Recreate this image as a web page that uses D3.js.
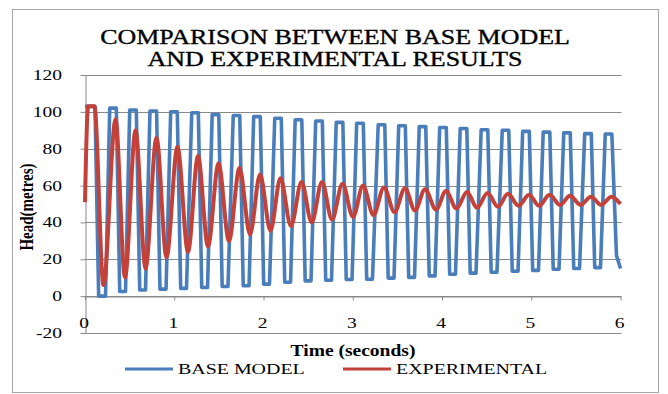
<!DOCTYPE html>
<html>
<head>
<meta charset="utf-8">
<script src="https://cdn.jsdelivr.net/npm/d3@7"></script>
<style>
  body { margin: 0; background: #fff; }
  svg { display: block; }
  text { font-family: "Liberation Serif", "Times New Roman", serif; fill: #000; }
</style>
</head>
<body>
<div id="chart"></div>
<script>
// [time (s), head (m)]
const baseModel = [
  [0,103],[0.112,103],[0.153,0],[0.230,0],
  [0.277,102],[0.351,102],[0.389,2.5],[0.454,2.5],
  [0.501,101],[0.575,101],[0.613,3.3],[0.678,3.3],
  [0.728,100.5],[0.802,100.5],[0.840,3.8],[0.908,3.8],
  [0.960,100],[1.034,100],[1.072,4.2],[1.137,4.2],
  [1.196,99.5],[1.270,99.5],[1.308,4.7],[1.373,4.7],
  [1.425,98.5],[1.499,98.5],[1.537,5.2],[1.602,5.2],
  [1.661,98],[1.734,98],[1.773,5.6],[1.838,5.6],
  [1.890,97.4],[1.964,97.4],[2.002,6.5],[2.067,6.5],
  [2.126,96.5],[2.199,96.5],[2.238,7.5],[2.303,7.5],
  [2.355,95.7],[2.429,95.7],[2.467,8.3],[2.532,8.3],
  [2.585,95],[2.659,95],[2.697,8.6],[2.762,8.6],
  [2.815,94.3],[2.889,94.3],[2.927,9],[2.992,9],
  [3.044,93.8],[3.118,93.8],[3.156,9.2],[3.221,9.2],
  [3.285,93],[3.359,93],[3.397,9.8],[3.462,9.8],
  [3.515,92.5],[3.589,92.5],[3.627,10.2],[3.692,10.2],
  [3.745,92],[3.818,92],[3.857,11],[3.922,11],
  [3.974,91.5],[4.048,91.5],[4.086,11.9],[4.151,11.9],
  [4.204,91],[4.278,91],[4.316,12.5],[4.381,12.5],
  [4.439,90.3],[4.513,90.3],[4.551,13],[4.616,13],
  [4.675,90],[4.748,90],[4.787,13.5],[4.852,13.5],
  [4.904,89.4],[4.978,89.4],[5.016,14],[5.081,14],
  [5.134,89],[5.208,89],[5.246,14.6],[5.311,14.6],
  [5.364,88.6],[5.437,88.6],[5.476,15],[5.541,15],
  [5.599,88.2],[5.673,88.2],[5.711,15.5],[5.776,15.5],
  [5.829,88],[5.903,88],[5.955,22],[6.0,15]
];

const experimental = [
  [0,51],[0.035,103],[0.105,103],[0.207,6],[0.342,96],[0.448,10],[0.566,90],[0.678,15],
  [0.801,86],[0.913,21],[1.036,81],[1.154,24],[1.266,76],[1.378,27],[1.496,72],[1.613,30],
  [1.731,69.5],[1.849,33.5],[1.961,66],[2.078,35.5],[2.190,64],[2.308,38],[2.426,62],[2.540,40],
  [2.655,62],[2.768,41.5],[2.885,61],[3.003,43],[3.115,60],[3.232,44],[3.350,59],[3.468,45.5],
  [3.585,58.5],[3.697,46.5],[3.810,58],[3.933,47],[4.045,57],[4.162,47.5],[4.280,56.5],[4.392,48],
  [4.510,56],[4.627,48.5],[4.739,55.5],[4.857,49],[4.975,55],[5.087,49],[5.205,55],[5.322,49.5],
  [5.434,54.5],[5.552,49.5],[5.669,54],[5.782,49.5],[5.899,54],[6.0,50]
];

const xTicks = [0, 1, 2, 3, 4, 5, 6];
const yTicks = [-20, 0, 20, 40, 60, 80, 100, 120];
const titleLines = ["COMPARISON BETWEEN BASE MODEL", "AND EXPERIMENTAL RESULTS"];
const seriesNames = ["BASE MODEL", "EXPERIMENTAL"];
const xTitle = "Time (seconds)";
const yTitle = "Head(metres)";

const width = 668, height = 394;
const plot = {left: 85, right: 620.5, top: 75, bottom: 333};
const colors = ["#4a7ebb", "#c4413a"];
const gridColor = "#8a8a8a";

const svg = d3.select("#chart").append("svg")
    .attr("width", width)
    .attr("height", height);

// chart area border
svg.append("rect")
    .attr("x", 12.5).attr("y", 9.5)
    .attr("width", 646).attr("height", 383)
    .attr("fill", "#fff")
    .attr("stroke", "#a6a6a6");

const x = d3.scaleLinear().domain([0, 6]).range([plot.left, plot.right]);
const y = d3.scaleLinear().domain([-20, 120]).range([plot.bottom, plot.top]);
const py = v => Math.round(y(v)) + 0.5;

// horizontal gridlines
svg.append("g")
  .selectAll("line")
  .data(yTicks)
  .join("line")
    .attr("x1", plot.left).attr("x2", plot.right + 1)
    .attr("y1", py).attr("y2", py)
    .attr("stroke", gridColor);

// y axis
const yAxis = svg.append("g")
    .attr("transform", `translate(${plot.left + 0.5},0)`)
    .call(d3.axisLeft(y).tickValues(yTicks).tickSize(5).tickSizeOuter(0).tickFormat(""));
yAxis.selectAll("path, line").attr("stroke", gridColor);

svg.append("g")
  .selectAll("text")
  .data(yTicks)
  .join("text")
    .attr("transform", d => `translate(62,${y(d) + 5}) scale(1.3,1)`)
    .attr("text-anchor", "end")
    .style("font-size", "15px")
    .text(d => d);

// x axis sits on head = 0
const xAxis = svg.append("g")
    .attr("transform", `translate(0,${py(0)})`)
    .call(d3.axisBottom(x).tickValues(xTicks).tickSize(4).tickSizeOuter(0).tickFormat(""));
xAxis.selectAll("path, line").attr("stroke", gridColor);

svg.append("g")
  .selectAll("text")
  .data(xTicks)
  .join("text")
    .attr("transform", d => `translate(${x(d) - 1},328) scale(1.3,1)`)
    .attr("text-anchor", "middle")
    .style("font-size", "15px")
    .text(d => d);

// series
const line = d3.line()
    .x(d => x(d[0]))
    .y(d => y(d[1]));

svg.append("path")
    .datum(baseModel)
    .attr("fill", "none")
    .attr("stroke", colors[0])
    .attr("stroke-width", 3.6)
    .attr("stroke-linejoin", "round")
    .attr("d", line);

svg.append("path")
    .datum(experimental)
    .attr("fill", "none")
    .attr("stroke", colors[1])
    .attr("stroke-width", 4)
    .attr("stroke-linejoin", "round")
    .attr("d", line.curve(d3.curveMonotoneX));

// titles
svg.append("g")
  .selectAll("text")
  .data(titleLines)
  .join("text")
    .attr("transform", (d, i) => `translate(335,${44 + i * 22}) scale(1.18,1)`)
    .attr("text-anchor", "middle")
    .attr("stroke", "#000")
    .attr("stroke-width", 0.35)
    .style("font-size", "22px")
    .text(d => d);

svg.append("text")
    .attr("transform", `translate(353,356) scale(1.22,1)`)
    .attr("text-anchor", "middle")
    .style("font-size", "16px")
    .style("font-weight", "bold")
    .text(xTitle);

svg.append("text")
    .attr("transform", `translate(33,207) rotate(-90) scale(1,1.2)`)
    .attr("text-anchor", "middle")
    .style("font-size", "15px")
    .style("font-weight", "bold")
    .text(yTitle);

// legend
const legend = svg.append("g")
  .selectAll("g")
  .data(seriesNames)
  .join("g")
    .attr("transform", (d, i) => `translate(${[125, 343][i]},369)`);

legend.append("line")
    .attr("x1", 0).attr("x2", 48)
    .attr("stroke", (d, i) => colors[i])
    .attr("stroke-width", 3);

legend.append("text")
    .attr("transform", "translate(53,5) scale(1.33,1)")
    .style("font-size", "15px")
    .text(d => d);
</script>
</body>
</html>
